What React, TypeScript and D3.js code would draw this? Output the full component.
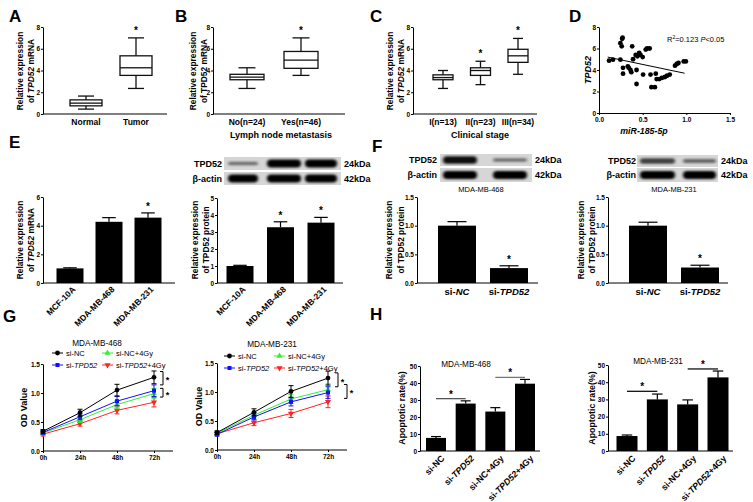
import React, { useRef, useEffect } from "react";
import * as d3 from "d3";

// A-C box plots, each row = [min, q1, median, q3, max]
const tissueGroups = ["Normal", "Tumor"];
const boxA = [[0.45, 0.75, 1.0, 1.3, 1.65], [2.35, 3.55, 4.25, 5.35, 7.0]];
const starA = [false, true];

const lymphGroups = ["No(n=24)", "Yes(n=46)"];
const boxB = [[2.35, 3.15, 3.4, 3.65, 4.25], [3.55, 4.2, 4.95, 5.75, 7.0]];
const starB = [false, true];

const stageGroups = ["I(n=13)", "II(n=23)", "III(n=34)"];
const boxC = [[2.35, 3.15, 3.35, 3.6, 4.0], [2.7, 3.55, 4.0, 4.25, 4.85], [3.65, 4.75, 5.35, 5.95, 6.95]];
const starC = [false, true, true];
const boxTicks = [0, 2, 4, 6, 8];

// D correlation
const mirX = [0.115, 0.16, 0.245, 0.245, 0.26, 0.265, 0.27, 0.275, 0.275, 0.33, 0.34, 0.36, 0.37, 0.38, 0.39, 0.42, 0.43, 0.43, 0.44, 0.46, 0.475, 0.5, 0.505, 0.535, 0.55, 0.58, 0.59, 0.6, 0.64, 0.65, 0.66, 0.69, 0.72, 0.755, 0.78, 0.81, 0.87, 0.89, 0.91, 0.97, 0.995];
const tpdY = [4.87, 4.96, 4.96, 6.5, 6.2, 6.9, 7.0, 4.2, 3.66, 4.34, 4.2, 4.0, 3.8, 6.2, 5.0, 5.4, 4.0, 2.7, 5.27, 5.6, 5.4, 5.2, 3.57, 5.9, 6.0, 6.0, 3.57, 2.4, 2.4, 3.66, 3.16, 3.16, 3.26, 3.35, 3.47, 3.57, 4.4, 4.56, 4.65, 4.8, 4.8];
const fitX = [0.1, 0.98];
const fitY = [5.2, 3.7];
const mirTicks = [0, 0.5, 1.0, 1.5];

// E cell lines
const cellLines = ["MCF-10A", "MDA-MB-468", "MDA-MB-231"];
const mrnaE = [1.02, 4.27, 4.56];
const mrnaErrE = [0.04, 0.29, 0.33];
const mrnaStarE = [false, false, true];
const protE = [1.0, 3.28, 3.55];
const protErrE = [0.04, 0.32, 0.31];
const protStarE = [false, true, true];
const blotE_tpd = [0.3, 1, 1];
const blotE_actin = [1, 1, 1];

// F knockdown
const siGroups = ["si-NC", "si-TPD52"];
const prot468 = [1.0, 0.26];
const prot468Err = [0.07, 0.04];
const prot231 = [1.0, 0.27];
const prot231Err = [0.06, 0.04];
const siStar = [false, true];
const blotF468_tpd = [0.95, 0.3];
const blotF231_tpd = [0.6, 0.35];
const blotF_actin = [1, 1];

// G CCK-8
const hours = [0, 24, 48, 72];
const od468NC = [0.34, 0.66, 1.05, 1.27];
const od468NCErr = [0.03, 0.06, 0.1, 0.11];
const od468Si = [0.32, 0.59, 0.86, 1.04];
const od468SiErr = [0.03, 0.05, 0.08, 0.1];
const od468NCGy = [0.31, 0.54, 0.8, 0.99];
const od468NCGyErr = [0.03, 0.05, 0.07, 0.09];
const od468SiGy = [0.29, 0.47, 0.7, 0.84];
const od468SiGyErr = [0.03, 0.04, 0.06, 0.08];
const od231NC = [0.3, 0.65, 1.01, 1.24];
const od231NCErr = [0.03, 0.06, 0.1, 0.12];
const od231Si = [0.27, 0.57, 0.83, 0.99];
const od231SiErr = [0.03, 0.05, 0.07, 0.1];
const od231NCGy = [0.29, 0.6, 0.88, 1.04];
const od231NCGyErr = [0.03, 0.05, 0.08, 0.1];
const od231SiGy = [0.28, 0.47, 0.63, 0.83];
const od231SiGyErr = [0.03, 0.05, 0.07, 0.1];
const odTicks = [0, 0.5, 1.0, 1.5];

// H apoptosis
const apoGroups = ["si-NC", "si-TPD52", "si-NC+4Gy", "si-TPD52+4Gy"];
const apo468 = [7.7, 27.9, 23.2, 39.6];
const apo468Err = [0.8, 1.6, 2.3, 2.5];
const apo231 = [8.7, 30.0, 27.1, 42.8];
const apo231Err = [0.6, 3.1, 2.6, 3.7];
const apoTicks = [0, 10, 20, 30, 40, 50];

type Seg = [string, boolean];

const App: React.FC = () => {
  const svgRef = useRef<SVGSVGElement | null>(null);

  useEffect(() => {
    const FONT = "'Liberation Sans', Arial, Helvetica, sans-serif";
    const svg = d3.select(svgRef.current!);
    svg.selectAll("*").remove();
    svg.attr("font-family", FONT);
    svg.append("rect").attr("width", 753).attr("height", 502).attr("fill", "#fff");
    svg.append("defs").append("filter").attr("id", "band")
      .attr("x", "-30%").attr("y", "-150%").attr("width", "160%").attr("height", "400%")
      .append("feGaussianBlur").attr("stdDeviation", "1.8 1.0");

    const rich = (t: any, segs: Seg[]) => {
      segs.forEach(([s, it]) => t.append("tspan").attr("font-style", it ? "italic" : null).text(s));
      return t;
    };
    const txt = (x: number, y: number, segs: Seg[] | string, size: number, weight = "bold", anchor = "middle") => {
      const t = svg.append("text").attr("x", x).attr("y", y).attr("font-size", size)
        .attr("font-weight", weight).attr("text-anchor", anchor).attr("fill", "#000");
      if (typeof segs === "string") t.text(segs); else rich(t, segs);
      return t;
    };
    // two-line rotated axis titles, shifted a bit left of the tick labels
    const yLabel = (xs: number[], cy: number, lines: Seg[][], size = 8.4) => {
      lines.forEach((segs, i) => {
        const t = svg.append("text").attr("transform", `translate(${xs[i] - 1.5},${cy}) rotate(-90)`)
          .attr("text-anchor", "middle").attr("font-size", size).attr("font-weight", "bold");
        rich(t, segs);
      });
    };
    const letter = (x: number, y: number, s: string) =>
      svg.append("text").attr("x", x).attr("y", y).attr("font-size", 17).attr("font-weight", "bold").text(s);

    const yAxis = (x: number, y: any, ticks: number[], fmt: (d: number) => string) => {
      const g = svg.append("g").attr("transform", `translate(${x},0)`)
        .call(d3.axisLeft(y).tickValues(ticks).tickSize(2).tickSizeOuter(0).tickPadding(1).tickFormat(fmt as any));
      g.attr("font-family", FONT).attr("font-size", 6.5).attr("font-weight", "bold");
      return g;
    };
    const xLine = (x0: number, x1: number, y: number) =>
      svg.append("line").attr("x1", x0).attr("x2", x1).attr("y1", y).attr("y2", y).attr("stroke", "#000");
    const star = (x: number, y: number) => txt(x, y + 5, "*", 10, "bold");

    // ---------- box plots ----------
    const boxPanel = (cats: string[], stats: number[][], stars: boolean[], axisX: number, xEnd: number,
      centers: [number, number], bw: number) => {
      const y = d3.scaleLinear().domain([0, 8]).range([114, 27]);
      const x = d3.scalePoint<string>().domain(cats).range(centers);
      yAxis(axisX, y, boxTicks, d3.format("d"));
      xLine(axisX, xEnd, y(0));
      stats.forEach((s, i) => {
        const cx = x(cats[i])!;
        const g = svg.append("g").attr("stroke", "#111").attr("stroke-width", 1.3);
        g.append("line").attr("x1", cx).attr("x2", cx).attr("y1", y(s[0])).attr("y2", y(s[4]));
        [s[0], s[4]].forEach((v) => g.append("line").attr("x1", cx - bw / 4).attr("x2", cx + bw / 4)
          .attr("y1", y(v)).attr("y2", y(v)));
        g.append("rect").attr("x", cx - bw / 2).attr("width", bw).attr("y", y(s[3]))
          .attr("height", y(s[1]) - y(s[3])).attr("fill", "#fff");
        g.append("line").attr("x1", cx - bw / 2).attr("x2", cx + bw / 2).attr("y1", y(s[2])).attr("y2", y(s[2]));
        if (stars[i]) star(cx, y(s[4]) - 9);
        txt(cx, 125, cats[i], 8.5);
      });
    };

    letter(9, 22, "A");
    boxPanel(tissueGroups, boxA, starA, 43, 167, [86, 136], 32);
    yLabel([24, 35.5], 71, [[["Relative expression", false]], [["of ", false], ["TPD52", true], [" mRNA", false]]]);

    letter(175, 22, "B");
    boxPanel(lymphGroups, boxB, starB, 213, 345, [247, 301], 34);
    yLabel([197, 208.5], 71, [[["Relative expression", false]], [["of TPD52 mRNA", false]]]);
    txt(281, 138, "Lymph node metastasis", 9);

    letter(370, 22, "C");
    boxPanel(stageGroups, boxC, starC, 413, 537, [443, 518], 20);
    yLabel([394, 405.5], 71, [[["Relative expression", false]], [["of ", false], ["TPD52", true], [" mRNA", false]]]);
    txt(480, 138, "Clinical stage", 9);

    // ---------- D scatter ----------
    letter(569, 22, "D");
    {
      const x = d3.scaleLinear().domain([0, 1.5]).range([599, 730]);
      const y = d3.scaleLinear().domain([0, 8]).range([113, 27]);
      yAxis(599, y, boxTicks, d3.format("d"));
      const gx = svg.append("g").attr("transform", `translate(0,${y(0)})`)
        .call(d3.axisBottom(x).tickValues(mirTicks).tickSize(2).tickSizeOuter(0).tickPadding(2).tickFormat(d3.format(".1f") as any));
      gx.attr("font-family", FONT).attr("font-size", 6.5).attr("font-weight", "bold");
      svg.append("g").selectAll("circle").data(mirX).join("circle")
        .attr("cx", (d) => x(d)).attr("cy", (_, i) => y(tpdY[i])).attr("r", 2.4).attr("fill", "#000");
      svg.append("line").attr("x1", x(fitX[0])).attr("x2", x(fitX[1])).attr("y1", y(fitY[0])).attr("y2", y(fitY[1]))
        .attr("stroke", "#000").attr("stroke-width", 1);
      const t = svg.append("text").attr("x", 667).attr("y", 42).attr("font-size", 7.5);
      t.append("tspan").text("R");
      t.append("tspan").attr("font-size", 5).attr("dy", -3).text("2");
      t.append("tspan").attr("dy", 3).text("=0.123 ");
      t.append("tspan").attr("font-style", "italic").text("P");
      t.append("tspan").text("<0.05");
      txt(644, 134, [["miR-185-5p", true]], 8.8);
      yLabel([592], 70, [[["TPD52", true]]], 9);
    }

    // ---------- western blots ----------
    const bandColor = d3.interpolateRgb("#9a9a9a", "#050505");
    const blot = (x0: number, w: number, lanes: [number, number][], rows: { y: number; h: number; amt: number[]; name: string; kda: string }[], nameRight: number) => {
      rows.forEach((r) => {
        svg.append("rect").attr("x", x0).attr("y", r.y).attr("width", w).attr("height", r.h).attr("fill", "#d6d6d6");
        r.amt.forEach((a, i) => {
          const [l0, l1] = lanes[i];
          const bh = 1.5 + 6.5 * a;
          svg.append("rect").attr("x", l0).attr("width", l1 - l0).attr("y", r.y + r.h / 2 - bh / 2).attr("height", bh)
            .attr("rx", bh / 2).attr("fill", bandColor(a)).attr("filter", "url(#band)");
        });
        txt(nameRight, r.y + r.h / 2 + 3.3, r.name, 9, "bold", "end");
        txt(x0 + w + 3, r.y + r.h / 2 + 3.3, r.kda, 9, "bold", "start");
      });
    };

    letter(9, 148, "E");
    blot(224, 117, [[228, 258], [267, 301], [305, 337]], [
      { y: 157, h: 13, amt: blotE_tpd, name: "TPD52", kda: "24kDa" },
      { y: 172, h: 13, amt: blotE_actin, name: "\u03b2-actin", kda: "42kDa" },
    ], 222);

    letter(372, 152, "F");
    blot(440, 92, [[443, 477], [493, 527]], [
      { y: 154, h: 12, amt: blotF468_tpd, name: "TPD52", kda: "24kDa" },
      { y: 168, h: 14, amt: blotF_actin, name: "\u03b2-actin", kda: "42kDa" },
    ], 437);
    blot(637, 81, [[640, 675], [683, 716]], [
      { y: 155, h: 12, amt: blotF231_tpd, name: "TPD52", kda: "24kDa" },
      { y: 168, h: 14, amt: blotF_actin, name: "\u03b2-actin", kda: "42kDa" },
    ], 636);

    // ---------- bar charts ----------
    type BarCfg = {
      cats: string[]; labels: Seg[][]; vals: number[]; errs: number[]; stars: boolean[];
      axisX: number; xEnd: number; yTop: number; yBot: number; max: number; ticks: number[];
      fmt: (d: number) => string; centers: [number, number]; bw: number; rot: boolean; lab: number; ldx: number; ldy: number;
    };
    const barPanel = (c: BarCfg) => {
      const y = d3.scaleLinear().domain([0, c.max]).range([c.yBot, c.yTop]);
      const x = d3.scalePoint<string>().domain(c.cats).range(c.centers);
      yAxis(c.axisX, y, c.ticks, c.fmt);
      xLine(c.axisX, c.xEnd, c.yBot);
      c.vals.forEach((v, i) => {
        const cx = x(c.cats[i])!;
        const top = y(v + c.errs[i]);
        svg.append("line").attr("x1", cx).attr("x2", cx).attr("y1", y(v)).attr("y2", top).attr("stroke", "#000").attr("stroke-width", 1.2);
        svg.append("line").attr("x1", cx - c.bw * 0.25).attr("x2", cx + c.bw * 0.25).attr("y1", top).attr("y2", top)
          .attr("stroke", "#000").attr("stroke-width", 1.2);
        svg.append("rect").attr("x", cx - c.bw / 2).attr("width", c.bw).attr("y", y(v)).attr("height", c.yBot - y(v)).attr("fill", "#000");
        if (c.stars[i]) star(cx, top - 8);
        if (c.rot) {
          const t = svg.append("text").attr("transform", `translate(${cx + c.ldx},${c.yBot + c.ldy}) rotate(-45)`)
            .attr("text-anchor", "end").attr("font-size", c.lab).attr("font-weight", "bold");
          rich(t, c.labels[i]);
        } else {
          rich(txt(cx, c.yBot + 12, "", c.lab), c.labels[i]);
        }
      });
      return { x, y };
    };

    const cellLab: Seg[][] = cellLines.map((s) => [[s, false]]);
    barPanel({ cats: cellLines, labels: cellLab, vals: mrnaE, errs: mrnaErrE, stars: mrnaStarE, axisX: 43, xEnd: 175, yTop: 197,
      yBot: 283, max: 6, ticks: [0, 2, 4, 6], fmt: d3.format("d"), centers: [70, 148], bw: 27, rot: true, lab: 8.5, ldx: 6, ldy: 7 });
    yLabel([24, 35.5], 240, [[["Relative expression", false]], [["of ", false], ["TPD52", true], [" mRNA", false]]]);

    barPanel({ cats: cellLines, labels: cellLab, vals: protE, errs: protErrE, stars: protStarE, axisX: 217, xEnd: 343, yTop: 198,
      yBot: 283, max: 5, ticks: [0, 1, 2, 3, 4, 5], fmt: d3.format("d"), centers: [240, 321], bw: 27, rot: true, lab: 8.5, ldx: 6, ldy: 7 });
    yLabel([199, 210.5], 240, [[["Relative expression", false]], [["of TPD52 protein", false]]]);

    const siLab: Seg[][] = [[["si-", false], ["NC", true]], [["si-", false], ["TPD52", true]]];
    barPanel({ cats: siGroups, labels: siLab, vals: prot468, errs: prot468Err, stars: siStar, axisX: 417, xEnd: 538, yTop: 197,
      yBot: 283, max: 1.5, ticks: [0, 0.5, 1, 1.5], fmt: d3.format(".1f"), centers: [457, 509], bw: 38, rot: false, lab: 9.5, ldx: 0, ldy: 0 });
    yLabel([393.5, 405], 240, [[["Relative expression", false]], [["of TPD52 protein", false]]]);
    txt(481, 192, "MDA-MB-468", 7.5, "normal");

    barPanel({ cats: siGroups, labels: siLab, vals: prot231, errs: prot231Err, stars: siStar, axisX: 608, xEnd: 728, yTop: 197,
      yBot: 283, max: 1.5, ticks: [0, 0.5, 1, 1.5], fmt: d3.format(".1f"), centers: [648, 700], bw: 38, rot: false, lab: 9.5, ldx: 0, ldy: 0 });
    yLabel([585, 596.5], 240, [[["Relative expression", false]], [["of TPD52 protein", false]]]);
    txt(674, 192, "MDA-MB-231", 7.5, "normal");

    // ---------- G line charts ----------
    const symTypes = [d3.symbolCircle, d3.symbolSquare, d3.symbolTriangle, d3.symbolTriangle];
    const seriesColors = ["#000000", "#1010ff", "#33ee33", "#ff2222"];
    const seriesNames: Seg[][] = [[["si-NC", false]], [["si-", false], ["TPD52", true]], [["si-NC+4Gy", false]], [["si-", false], ["TPD52", true], ["+4Gy", false]]];
    const drawMark = (k: number, px: number, py: number) =>
      svg.append("path").attr("d", d3.symbol().type(symTypes[k]).size(k === 0 ? 18 : 16)()!).attr("fill", seriesColors[k])
        .attr("transform", `translate(${px},${py})${k === 3 ? " rotate(180)" : ""}`);

    const odPanel = (axisX: number, x72: number, xEnd: number, yTop: number, yBot: number, vals: number[][], errs: number[][],
      title: string, titleX: number, titleY: number, legX: number[], legY: number[], brackets: number[][], labX: number) => {
      const x = d3.scaleLinear().domain([0, 72]).range([axisX, x72]);
      const y = d3.scaleLinear().domain([0, 1.5]).range([yBot, yTop]);
      yAxis(axisX, y, odTicks, d3.format(".1f"));
      xLine(axisX, xEnd, yBot);
      const gx = svg.append("g").attr("transform", `translate(0,${yBot})`)
        .call(d3.axisBottom(x).tickValues(hours).tickSize(2).tickSizeOuter(0).tickPadding(2).tickFormat((d: any) => `${d}h`));
      gx.attr("font-family", FONT).attr("font-size", 6.5).attr("font-weight", "bold");
      gx.select(".domain").remove();
      const line = d3.line<number>().x((_, i) => x(hours[i])).y((d) => y(d));
      [3, 2, 1, 0].forEach((k) => {
        svg.append("path").attr("d", line(vals[k])!).attr("fill", "none").attr("stroke", seriesColors[k]).attr("stroke-width", 1);
        vals[k].forEach((v, i) => {
          const px = x(hours[i]);
          [v + errs[k][i], v - errs[k][i]].forEach((e) => {
            svg.append("line").attr("x1", px).attr("x2", px).attr("y1", y(v)).attr("y2", y(e)).attr("stroke", seriesColors[k]);
            svg.append("line").attr("x1", px - 2.5).attr("x2", px + 2.5).attr("y1", y(e)).attr("y2", y(e)).attr("stroke", seriesColors[k]);
          });
          drawMark(k, px, y(v));
        });
      });
      brackets.forEach(([bx, v0, v1]) => {
        svg.append("path").attr("d", `M${bx - 3},${y(v0)}H${bx}V${y(v1)}H${bx - 3}`).attr("fill", "none").attr("stroke", "#000");
        txt(bx + 4.5, (y(v0) + y(v1)) / 2 + 5, "*", 9, "bold");
      });
      txt(titleX, titleY, title, 8.2, "normal");
      [0, 1, 2, 3].forEach((k) => {
        const lx = legX[k >= 2 ? 1 : 0];
        const ly = legY[k % 2];
        svg.append("line").attr("x1", lx).attr("x2", lx + 11).attr("y1", ly).attr("y2", ly).attr("stroke", seriesColors[k]);
        drawMark(k, lx + 5.5, ly);
        rich(txt(lx + 14, ly + 2.7, "", 7.5, "normal", "start"), seriesNames[k]);
      });
      svg.append("text").attr("transform", `translate(${labX},${(yTop + yBot) / 2}) rotate(-90)`)
        .attr("text-anchor", "middle").attr("font-size", 9).attr("font-weight", "bold").text("OD Value");
    };

    letter(3, 322, "G");
    odPanel(43, 154, 173, 364, 451, [od468NC, od468Si, od468NCGy, od468SiGy], [od468NCErr, od468SiErr, od468NCGyErr, od468SiGyErr],
      "MDA-MB-468", 97, 346, [52, 102], [353, 365], [[163, 1.37, 1.14], [163, 1.08, 0.93]], 27);
    odPanel(217, 328, 347, 363, 450, [od231NC, od231Si, od231NCGy, od231SiGy], [od231NCErr, od231SiErr, od231NCGyErr, od231SiGyErr],
      "MDA-MB-231", 272, 347, [224, 274], [356, 368], [[338, 1.33, 1.09], [347, 1.13, 0.89]], 201.5);

    // ---------- H apoptosis ----------
    letter(370, 320, "H");
    const apoLab: Seg[][] = [[["si-NC", false]], [["si-", false], ["TPD52", true]], [["si-NC+4Gy", false]], [["si-", false], ["TPD52", true], ["+4Gy", false]]];
    const sig = (y: any, x0: number, x1: number, v: number, col: string) => {
      svg.append("line").attr("x1", x0).attr("x2", x1).attr("y1", y(v)).attr("y2", y(v)).attr("stroke", col).attr("stroke-width", 1.3);
      star((x0 + x1) / 2, y(v) - 6);
    };
    {
      const { x, y } = barPanel({ cats: apoGroups, labels: apoLab, vals: apo468, errs: apo468Err, stars: [false, false, false, false],
        axisX: 420, xEnd: 540, yTop: 366, yBot: 451, max: 50, ticks: apoTicks, fmt: d3.format("d"), centers: [436, 525], bw: 20,
        rot: true, lab: 8.9, ldx: 9, ldy: 8 });
      sig(y, x("si-NC")!, x("si-TPD52")!, 30.8, "#555");
      sig(y, x("si-NC+4Gy")!, x("si-TPD52+4Gy")!, 43.3, "#777");
      svg.append("text").attr("transform", `translate(405,408) rotate(-90)`).attr("text-anchor", "middle")
        .attr("font-size", 8.8).attr("font-weight", "bold").text("Apoptotic rate(%)");
      txt(466, 367, "MDA-MB-468", 8.2, "normal");
    }
    {
      const { x, y } = barPanel({ cats: apoGroups, labels: apoLab, vals: apo231, errs: apo231Err, stars: [false, false, false, false],
        axisX: 608, xEnd: 733, yTop: 365, yBot: 451, max: 50, ticks: apoTicks, fmt: d3.format("d"), centers: [627, 718], bw: 21,
        rot: true, lab: 8.9, ldx: 9, ldy: 8 });
      sig(y, x("si-NC")!, x("si-TPD52")!, 34.7, "#111");
      sig(y, x("si-NC+4Gy")!, x("si-TPD52+4Gy")!, 47.7, "#111");
      svg.append("text").attr("transform", `translate(595,408) rotate(-90)`).attr("text-anchor", "middle")
        .attr("font-size", 8.8).attr("font-weight", "bold").text("Apoptotic rate(%)");
      txt(658, 364, "MDA-MB-231", 8.2, "normal");
    }
  }, []);

  return (
    <svg ref={svgRef} width={753} height={502} style={{ position: "absolute", left: 0, top: 0 }} />
  );
};

export default App;
